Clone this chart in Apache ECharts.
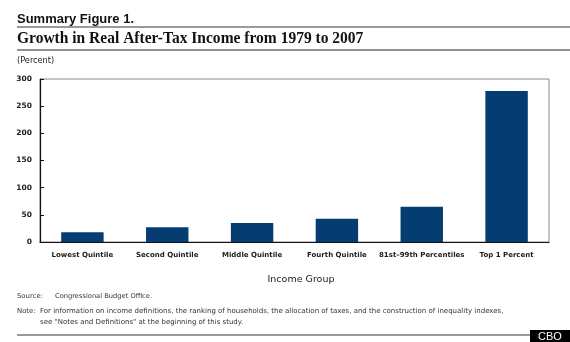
<!DOCTYPE html>
<html>
<head>
<meta charset="utf-8">
<script src="https://cdn.jsdelivr.net/npm/echarts@6/dist/echarts.min.js"></script>
<style>
  html, body { margin: 0; padding: 0; background: #fff; }
  #chart { width: 570px; height: 342px; }
</style>
</head>
<body>
<div id="chart"></div>
<script>
// Income groups and cumulative growth (percent), 1979–2007
const categories = ['Lowest Quintile', 'Second Quintile', 'Middle Quintile', 'Fourth Quintile', '81st\u201399th Percentiles', 'Top 1 Percent'];
const growthPercent = [18, 27, 35, 43, 65, 278];
const yTicks = { min: 0, max: 300, interval: 50 };

const SANS = '"DejaVu Sans", Verdana, sans-serif';
const BAR_COLOR = '#053d73';

const chart = echarts.init(document.getElementById('chart'), null, { renderer: 'canvas' });

chart.setOption({
  backgroundColor: '#ffffff',
  animation: false,
  grid: {
    left: 40, right: 21, top: 79, bottom: 100,
    show: true, borderColor: '#8a8a8a', borderWidth: 1, backgroundColor: 'transparent'
  },
  xAxis: {
    type: 'category',
    data: categories,
    axisLine: { show: true, lineStyle: { color: '#111', width: 1.2 } },
    axisTick: { show: false },
    axisLabel: {
      interval: 0, margin: 10, color: '#1a1a1a',
      fontFamily: SANS, fontWeight: 'bold', fontSize: 7
    },
    splitLine: { show: false }
  },
  yAxis: {
    type: 'value',
    min: yTicks.min, max: yTicks.max, interval: yTicks.interval,
    axisLine: { show: true, lineStyle: { color: '#111', width: 1.2 } },
    axisTick: { show: true, inside: true, length: 4, lineStyle: { color: '#111' } },
    axisLabel: {
      margin: 8, color: '#1a1a1a',
      fontFamily: SANS, fontWeight: 'bold', fontSize: 7.5
    },
    splitLine: { show: false }
  },
  series: [{
    type: 'bar',
    data: growthPercent,
    barWidth: '50%',
    itemStyle: { color: BAR_COLOR }
  }],
  graphic: [
    { type: 'text', x: 17, y: 12.5,
      style: { text: 'Summary Figure 1.', fill: '#111', font: 'bold 13px "Liberation Sans", Arial, sans-serif' } },
    { type: 'rect', shape: { x: 17, y: 26, width: 553, height: 2 }, style: { fill: '#9a9a9a' } },
    { type: 'text', x: 17, y: 30, scaleX: 0.94,
      style: { text: 'Growth in Real After-Tax Income from 1979 to 2007', fill: '#111',
               font: 'bold 16.5px "Liberation Serif", "Times New Roman", serif' } },
    { type: 'rect', shape: { x: 17, y: 49.5, width: 553, height: 1 }, style: { fill: '#222' } },
    { type: 'text', x: 17, y: 56.5,
      style: { text: '(Percent)', fill: '#222', font: '8.2px ' + SANS } },
    { type: 'text', x: 301, y: 280,
      style: { text: 'Income Group', fill: '#1a1a1a', font: '9.5px ' + SANS, align: 'center', verticalAlign: 'middle' } },
    { type: 'text', x: 17, y: 293,
      style: { text: 'Source:', fill: '#333', font: '6.9px ' + SANS } },
    { type: 'text', x: 55, y: 293,
      style: { text: 'Congressional Budget Office.', fill: '#333', font: '6.7px ' + SANS } },
    { type: 'text', x: 17, y: 308,
      style: { text: 'Note:', fill: '#333', font: '6.9px ' + SANS } },
    { type: 'text', x: 40, y: 308,
      style: { text: 'For information on income definitions, the ranking of households, the allocation of taxes, and the construction of inequality indexes,', fill: '#333', font: '7px ' + SANS } },
    { type: 'text', x: 40, y: 319,
      style: { text: 'see "Notes and Definitions" at the beginning of this study.', fill: '#333', font: '7px ' + SANS } },
    { type: 'rect', shape: { x: 17, y: 334, width: 515, height: 2 }, style: { fill: '#9a9a9a' } },
    { type: 'rect', shape: { x: 530, y: 330, width: 40, height: 12 }, style: { fill: '#000' } },
    { type: 'text', x: 550, y: 336.5,
      style: { text: 'CBO', fill: '#fff', font: '11px "Liberation Sans", Arial, sans-serif', align: 'center', verticalAlign: 'middle' } }
  ]
});
</script>
</body>
</html>
